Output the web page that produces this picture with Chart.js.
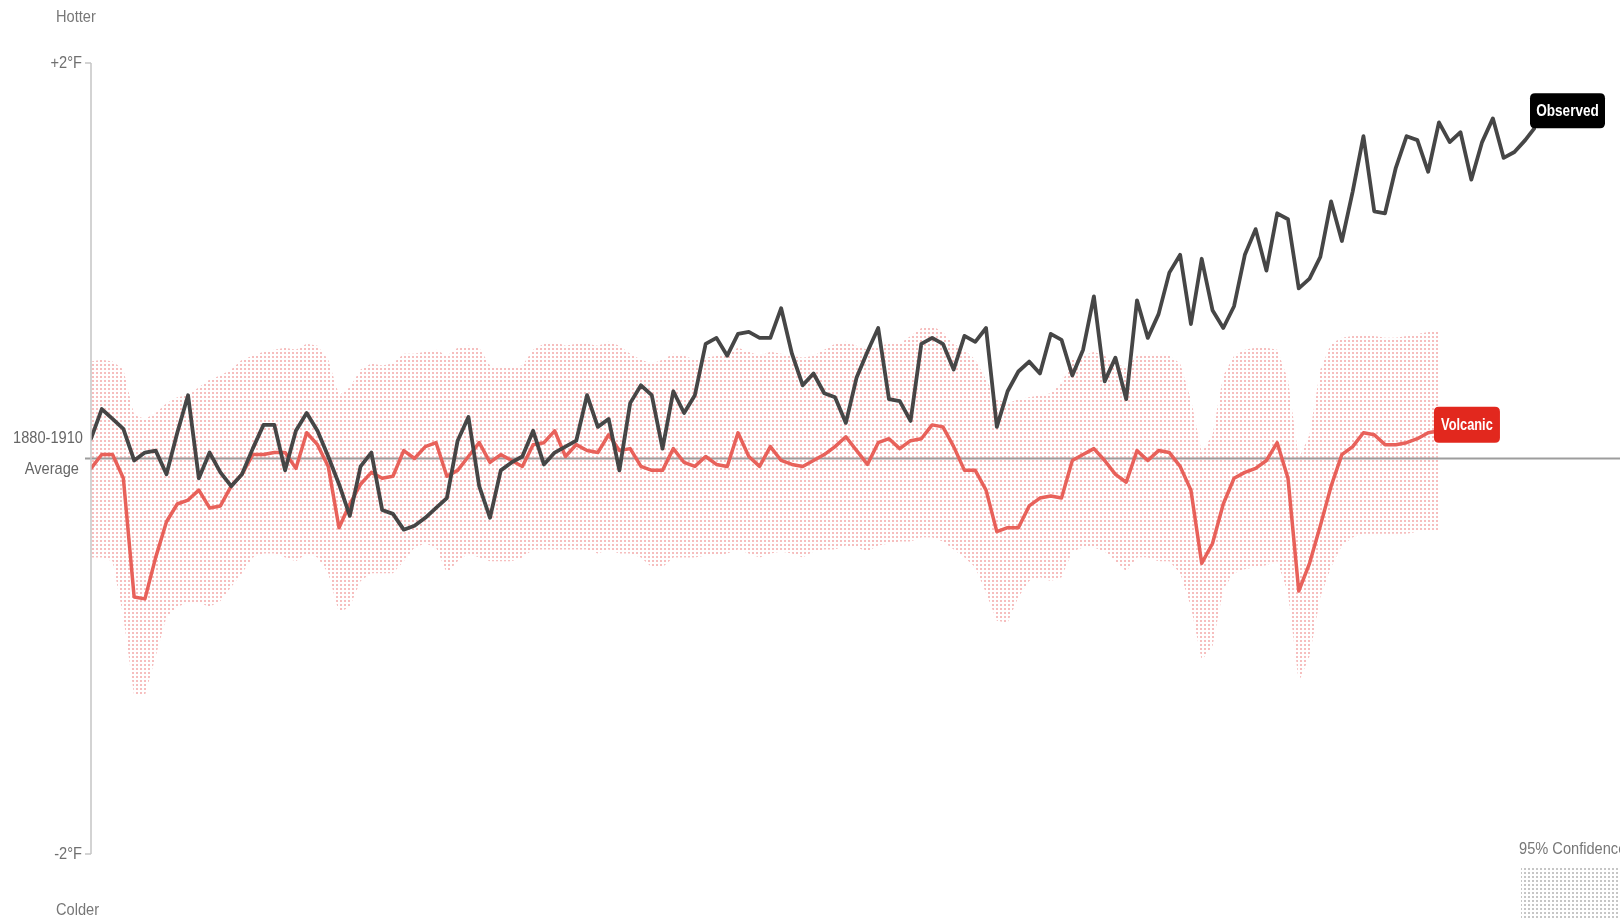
<!DOCTYPE html>
<html>
<head>
<meta charset="utf-8">
<title>Observed vs Volcanic</title>
<script src="https://cdn.jsdelivr.net/npm/chart.js@4.4.1/dist/chart.umd.min.js"></script>
<style>
  html, body { margin: 0; padding: 0; background: #fff; }
  canvas { display: block; }
</style>
</head>
<body>
<canvas id="chart" width="1620" height="919"></canvas>
<script>
// Temperature vs 1880-1910 average, in degrees F
const firstYear = 1880

const observed = [
  0.10, 0.25, 0.20, 0.15, -0.01, 0.03, 0.04, -0.08, 0.13, 0.32,
  -0.10, 0.03, -0.07, -0.14, -0.08, 0.05, 0.17, 0.17, -0.06, 0.14,
  0.23, 0.14, 0.01, -0.13, -0.29, -0.04, 0.03, -0.26, -0.28, -0.36,
  -0.34, -0.30, -0.25, -0.20, 0.09, 0.21, -0.14, -0.30, -0.06, -0.02,
  0.01, 0.14, -0.03, 0.03, 0.06, 0.09, 0.32, 0.16, 0.20, -0.06,
  0.28, 0.37, 0.32, 0.05, 0.34, 0.23, 0.32, 0.58, 0.61, 0.52,
  0.63, 0.64, 0.61, 0.61, 0.76, 0.53, 0.37, 0.43, 0.33, 0.31,
  0.18, 0.41, 0.54, 0.66, 0.30, 0.29, 0.19, 0.58, 0.61, 0.58,
  0.45, 0.62, 0.59, 0.66, 0.16, 0.34, 0.44, 0.49, 0.43, 0.63,
  0.60, 0.42, 0.55, 0.82, 0.39, 0.51, 0.30, 0.80, 0.61, 0.73,
  0.94, 1.03, 0.68, 1.01, 0.75, 0.66, 0.77, 1.03, 1.16, 0.95,
  1.24, 1.21, 0.86, 0.91, 1.02, 1.30, 1.10, 1.35, 1.63, 1.25,
  1.24, 1.47, 1.63, 1.61, 1.45, 1.70, 1.60, 1.65, 1.41, 1.60,
  1.72, 1.52, 1.55, 1.61, 1.68
]

const volcanic = [
  -0.05, 0.02, 0.02, -0.10, -0.70, -0.71, -0.50, -0.32, -0.23, -0.21,
  -0.16, -0.25, -0.24, -0.14, -0.08, 0.02, 0.02, 0.03, 0.03, -0.05,
  0.13, 0.07, -0.04, -0.35, -0.23, -0.13, -0.07, -0.10, -0.09, 0.04,
  0.00, 0.06, 0.08, -0.09, -0.06, 0.01, 0.08, -0.02, 0.02, -0.01,
  -0.04, 0.07, 0.08, 0.14, 0.01, 0.07, 0.04, 0.03, 0.12, 0.04,
  0.05, -0.04, -0.06, -0.06, 0.05, -0.02, -0.04, 0.01, -0.03, -0.04,
  0.13, 0.01, -0.04, 0.06, -0.01, -0.03, -0.04, -0.01, 0.02, 0.06,
  0.11, 0.04, -0.03, 0.08, 0.10, 0.05, 0.09, 0.10, 0.17, 0.16,
  0.06, -0.06, -0.06, -0.16, -0.37, -0.35, -0.35, -0.24, -0.20, -0.19,
  -0.20, -0.01, 0.02, 0.05, -0.01, -0.08, -0.12, 0.04, -0.01, 0.04,
  0.03, -0.04, -0.16, -0.53, -0.43, -0.23, -0.10, -0.07, -0.05, -0.01,
  0.08, -0.10, -0.67, -0.53, -0.34, -0.14, 0.02, 0.06, 0.13, 0.12,
  0.07, 0.07, 0.08, 0.10, 0.13, 0.14
]

// 95% confidence range of the volcanic model
const volcanicHigh = [
  0.49, 0.50, 0.49, 0.45, 0.22, 0.20, 0.23, 0.28, 0.31, 0.32,
  0.36, 0.40, 0.42, 0.45, 0.50, 0.52, 0.54, 0.55, 0.56, 0.55,
  0.58, 0.57, 0.50, 0.32, 0.36, 0.45, 0.48, 0.47, 0.48, 0.53,
  0.53, 0.54, 0.55, 0.52, 0.56, 0.57, 0.56, 0.47, 0.46, 0.46,
  0.47, 0.55, 0.58, 0.59, 0.57, 0.58, 0.58, 0.57, 0.59, 0.57,
  0.53, 0.50, 0.48, 0.50, 0.53, 0.52, 0.50, 0.51, 0.52, 0.53,
  0.56, 0.54, 0.52, 0.54, 0.53, 0.52, 0.51, 0.52, 0.55, 0.58,
  0.59, 0.57, 0.55, 0.57, 0.58, 0.58, 0.62, 0.66, 0.67, 0.64,
  0.58, 0.55, 0.50, 0.40, 0.30, 0.28, 0.30, 0.31, 0.32, 0.33,
  0.38, 0.50, 0.52, 0.54, 0.52, 0.48, 0.46, 0.52, 0.52, 0.53,
  0.52, 0.48, 0.30, 0.03, 0.12, 0.42, 0.52, 0.55, 0.56, 0.56,
  0.55, 0.40, 0.00, 0.12, 0.45, 0.58, 0.61, 0.62, 0.62, 0.62,
  0.61, 0.61, 0.62, 0.63, 0.64, 0.64
]

const volcanicLow = [
  -0.50, -0.50, -0.52, -0.80, -1.20, -1.20, -1.00, -0.80, -0.75, -0.73,
  -0.73, -0.75, -0.72, -0.65, -0.58, -0.50, -0.48, -0.48, -0.50, -0.52,
  -0.48, -0.50, -0.58, -0.78, -0.75, -0.62, -0.58, -0.58, -0.58, -0.52,
  -0.45, -0.43, -0.45, -0.58, -0.52, -0.48, -0.50, -0.52, -0.52, -0.52,
  -0.50, -0.46, -0.46, -0.46, -0.46, -0.46, -0.46, -0.48, -0.46, -0.48,
  -0.48, -0.50, -0.55, -0.55, -0.50, -0.50, -0.50, -0.49, -0.49, -0.48,
  -0.46, -0.48, -0.50, -0.48, -0.47, -0.48, -0.50, -0.47, -0.46, -0.46,
  -0.44, -0.45, -0.47, -0.44, -0.43, -0.42, -0.42, -0.40, -0.40, -0.42,
  -0.46, -0.50, -0.55, -0.68, -0.82, -0.83, -0.70, -0.62, -0.60, -0.62,
  -0.60, -0.47, -0.45, -0.45, -0.47, -0.52, -0.57, -0.50, -0.50, -0.52,
  -0.52, -0.58, -0.75, -1.02, -0.95, -0.66, -0.58, -0.56, -0.55, -0.54,
  -0.52, -0.68, -1.13, -1.00, -0.70, -0.55, -0.44, -0.40, -0.38, -0.38,
  -0.38, -0.38, -0.38, -0.37, -0.37, -0.36
]

const yTickValues = [2, -2]
const yTickLabels = ["+2°F", "-2°F"]

const FONT = '"Liberation Sans", Arial, sans-serif'
// no condensed face installed, so text is squeezed horizontally
const NARROW = 0.86

function toPoints(values) {
  return values.map((v, i) => ({ x: firstYear + i, y: v }))
}

function dotPattern(color) {
  const tile = document.createElement("canvas")
  tile.width = 4
  tile.height = 4
  const c = tile.getContext("2d")
  c.fillStyle = color
  c.fillRect(0, 0, 2, 2)
  return c.createPattern(tile, "repeat")
}

function narrowText(ctx, text, x, y, squeeze = NARROW) {
  ctx.save()
  ctx.translate(x, y)
  ctx.scale(squeeze, 1)
  ctx.fillText(text, 0, 0)
  ctx.restore()
}

function roundRect(ctx, x, y, w, h, r) {
  ctx.beginPath()
  ctx.moveTo(x + r, y)
  ctx.lineTo(x + w - r, y)
  ctx.quadraticCurveTo(x + w, y, x + w, y + r)
  ctx.lineTo(x + w, y + h - r)
  ctx.quadraticCurveTo(x + w, y + h, x + w - r, y + h)
  ctx.lineTo(x + r, y + h)
  ctx.quadraticCurveTo(x, y + h, x, y + h - r)
  ctx.lineTo(x, y + r)
  ctx.quadraticCurveTo(x, y, x + r, y)
  ctx.closePath()
}

function tagLabel(ctx, text, x, y, w, h, bg, size) {
  ctx.fillStyle = bg
  roundRect(ctx, x, y, w, h, 5)
  ctx.fill()
  ctx.fillStyle = "#fff"
  ctx.font = "bold " + size + "px " + FONT
  ctx.textAlign = "center"
  ctx.textBaseline = "middle"
  narrowText(ctx, text, x + w / 2, y + h / 2 + 1, 0.8)
}

const decorations = {
  id: "decorations",
  afterDatasetDraw(chart, args) {
    // baseline goes on top of the band, under the two lines
    if (args.index !== 2) return
    const ctx = chart.ctx
    const y0 = chart.scales.y.getPixelForValue(0)
    ctx.save()
    ctx.strokeStyle = "#9d9d9d"
    ctx.lineWidth = 1.8
    ctx.beginPath()
    ctx.moveTo(85, y0)
    ctx.lineTo(chart.width, y0)
    ctx.stroke()
    ctx.restore()
  },
  afterDraw(chart) {
    const ctx = chart.ctx
    const ys = chart.scales.y
    const xs = chart.scales.x
    const axisX = 91
    const top = ys.getPixelForValue(2)
    const bottom = ys.getPixelForValue(-2)
    ctx.save()

    // y axis line and ticks
    ctx.strokeStyle = "#c4c4c4"
    ctx.lineWidth = 1.5
    ctx.beginPath()
    ctx.moveTo(axisX, top)
    ctx.lineTo(axisX, bottom)
    ctx.stroke()

    ctx.font = "17px " + FONT
    ctx.fillStyle = "#707070"
    ctx.textAlign = "right"
    ctx.textBaseline = "middle"
    yTickValues.forEach((v, i) => {
      const y = ys.getPixelForValue(v)
      ctx.beginPath()
      ctx.moveTo(axisX - 6, y)
      ctx.lineTo(axisX, y)
      ctx.stroke()
      narrowText(ctx, yTickLabels[i], axisX - 9, y)
    })

    const y0 = ys.getPixelForValue(0)
    ctx.fillStyle = "#666"
    narrowText(ctx, "1880-1910", 83, y0 - 20)
    narrowText(ctx, "Average", 79, y0 + 11)

    ctx.textAlign = "left"
    ctx.fillStyle = "#777"
    narrowText(ctx, "Hotter", 56, 17)
    narrowText(ctx, "Colder", 56, 910)

    // legend for the confidence band
    narrowText(ctx, "95% Confidence", 1519, 849)
    ctx.fillStyle = dotPattern("#c6c6c6")
    ctx.fillRect(1521, 866, chart.width - 1521, chart.height - 866)

    // end-of-line tags
    const obsX = xs.getPixelForValue(firstYear + observed.length - 1)
    const obsY = ys.getPixelForValue(observed[observed.length - 1])
    tagLabel(ctx, "Observed", obsX - 6, obsY - 33, 75, 35, "#000", 17)

    const volX = xs.getPixelForValue(firstYear + volcanic.length - 1)
    const volY = ys.getPixelForValue(volcanic[volcanic.length - 1])
    tagLabel(ctx, "Volcanic", volX - 5, volY - 24, 66, 36, "#e2281e", 16)

    ctx.restore()
  },
}

const ctx = document.getElementById("chart").getContext("2d")

new Chart(ctx, {
  type: "line",
  data: {
    datasets: [
      {
        label: "Observed",
        data: toPoints(observed),
        borderColor: "#464646",
        borderWidth: 3.8,
        pointRadius: 0,
        fill: false,
      },
      {
        label: "Volcanic",
        data: toPoints(volcanic),
        borderColor: "#e8615a",
        borderWidth: 3.5,
        pointRadius: 0,
        fill: false,
      },
      {
        label: "95% high",
        data: toPoints(volcanicHigh),
        borderWidth: 0,
        pointRadius: 0,
        backgroundColor: dotPattern("rgba(238, 125, 125, 0.5)"),
        fill: "+1",
      },
      {
        label: "95% low",
        data: toPoints(volcanicLow),
        borderWidth: 0,
        pointRadius: 0,
        fill: false,
      },
    ],
  },
  options: {
    responsive: false,
    animation: false,
    devicePixelRatio: 1,
    elements: { line: { tension: 0, borderJoinStyle: "round", borderCapStyle: "round" } },
    layout: { padding: { left: 91, right: 84, top: 63, bottom: 65 } },
    scales: {
      x: { type: "linear", min: 1880, max: 2014, display: false },
      y: { min: -2, max: 2, display: false },
    },
    plugins: {
      legend: { display: false },
      tooltip: { enabled: false },
    },
  },
  plugins: [decorations],
})
</script>
</body>
</html>
